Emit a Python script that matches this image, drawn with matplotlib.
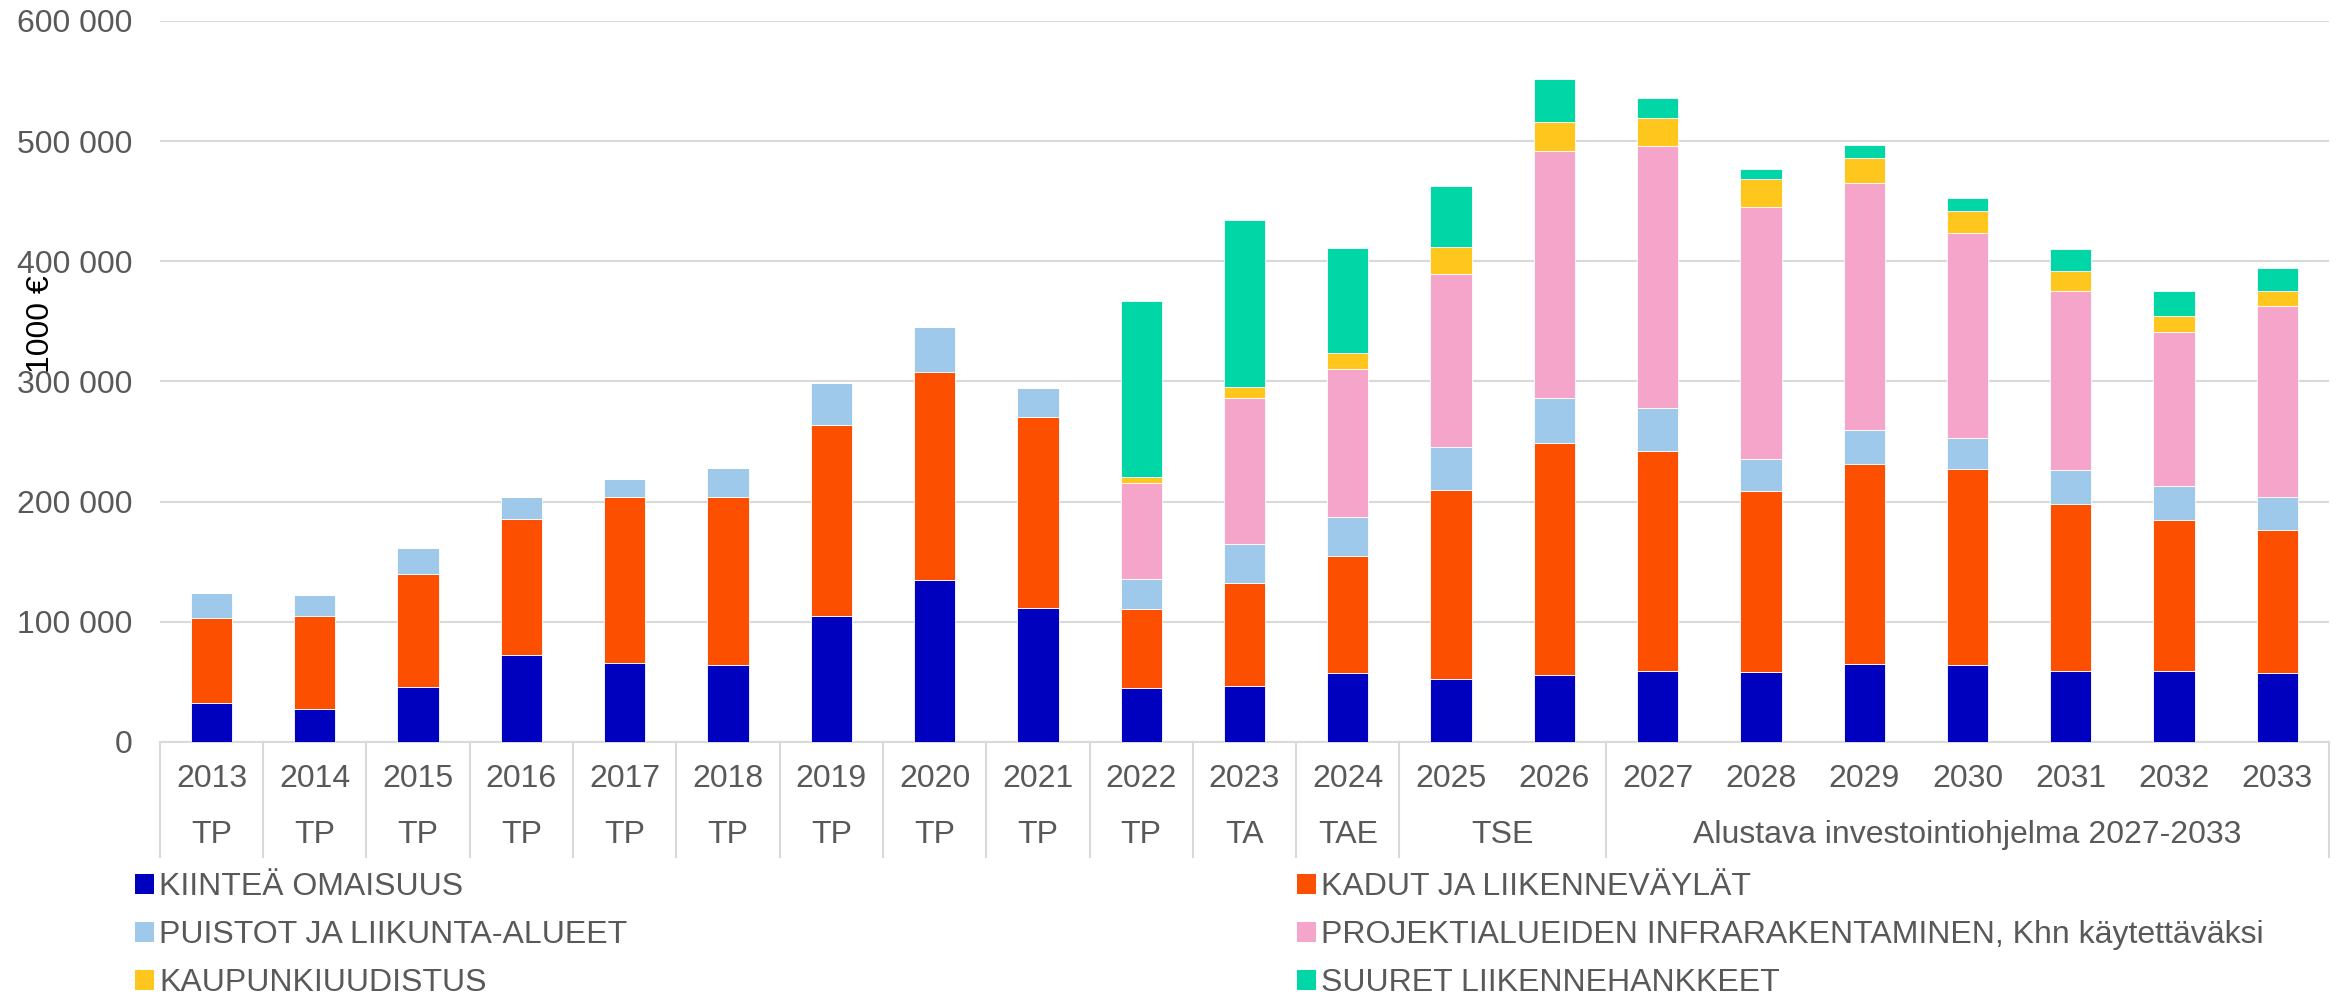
import matplotlib.pyplot as plt
import matplotlib.transforms as mtransforms
from matplotlib.lines import Line2D
from matplotlib.patches import Patch
import numpy as np

plt.rcParams['font.family'] = ['Liberation Sans', 'DejaVu Sans']

years = ['2013', '2014', '2015', '2016', '2017', '2018', '2019', '2020', '2021', '2022', '2023',
         '2024', '2025', '2026', '2027', '2028', '2029', '2030', '2031', '2032', '2033']
# groups: (label, first index, last index)
groups = [('TP', 0, 0), ('TP', 1, 1), ('TP', 2, 2), ('TP', 3, 3), ('TP', 4, 4), ('TP', 5, 5),
          ('TP', 6, 6), ('TP', 7, 7), ('TP', 8, 8), ('TP', 9, 9), ('TA', 10, 10), ('TAE', 11, 11),
          ('TSE', 12, 13), ('Alustava investointiohjelma 2027-2033', 14, 20)]

kiintea = [32700, 27400, 45600, 72200, 65800, 64200, 104500, 134400, 111800, 45200, 46800,
           57300, 52500, 55700, 59300, 58500, 65000, 64200, 59300, 59300, 57300]
kadut = [70200, 77100, 94400, 113000, 138000, 139600, 159000, 173100, 159000, 65800, 85600,
         97300, 157300, 193300, 183200, 150500, 166600, 162600, 138800, 125500, 119500]
puistot = [21400, 17400, 21000, 18600, 15300, 23800, 35500, 37900, 23400, 24200, 32200,
           32200, 35600, 37100, 35100, 26300, 27900, 25800, 27900, 27900, 27400]
projekti = [0, 0, 0, 0, 0, 0, 0, 0, 0, 80300, 121900,
            123900, 144000, 205800, 218000, 210200, 205400, 171100, 149700, 128300, 159000]
kaupunki = [0, 0, 0, 0, 0, 0, 0, 0, 0, 4800, 9300,
            13400, 22200, 24200, 23800, 23000, 21000, 18200, 16100, 13700, 11700]
suuret = [0, 0, 0, 0, 0, 0, 0, 0, 0, 146500, 138400,
          87100, 51300, 35600, 16900, 8500, 11300, 10500, 18600, 20600, 19800]

series = [
    ('KIINTEÄ OMAISUUS', kiintea, '#0000BF'),
    ('KADUT JA LIIKENNEVÄYLÄT', kadut, '#FC5000'),
    ('PUISTOT JA LIIKUNTA-ALUEET', puistot, '#9FC9EB'),
    ('PROJEKTIALUEIDEN INFRARAKENTAMINEN, Khn käytettäväksi', projekti, '#F4A5C9'),
    ('KAUPUNKIUUDISTUS', kaupunki, '#FFC61E'),
    ('SUURET LIIKENNEHANKKEET', suuret, '#00D6A6'),
]

gray = '#595959'
grid = '#D9D9D9'
fs = 23

fig = plt.figure(figsize=(23.41, 9.99), dpi=100)
ax = fig.add_axes([0.0683, 0.2573, 0.9266, 0.7217])

x = np.arange(len(years))
bottom = np.zeros(len(years))
for name, vals, col in series:
    v = np.array(vals, dtype=float)
    ax.bar(x, v, width=0.4, bottom=bottom, color=col, edgecolor='white', linewidth=0.6, zorder=3)
    bottom += v

ax.set_xlim(-0.5, len(years) - 0.5)
ax.set_ylim(0, 600000)
ax.set_yticks(np.arange(0, 600001, 100000))
ax.set_yticklabels([f'{int(t):,}'.replace(',', ' ') for t in np.arange(0, 600001, 100000)])
ax.tick_params(axis='y', length=0, pad=20, labelsize=fs, labelcolor=gray)
ax.set_xticks([])
ax.grid(axis='y', color=grid, linewidth=1.5, zorder=0)
for s in ['top', 'right', 'left']:
    ax.spines[s].set_visible(False)
ax.spines['bottom'].set_color(grid)
ax.spines['bottom'].set_linewidth(1.5)

# category axis below the plot
trans = mtransforms.blended_transform_factory(ax.transData, fig.transFigure)
y_axis = 0.2573
y_years = 0.2202
y_groups = 0.164
y_sep = 0.142
for i, yr in enumerate(years):
    fig.text(i, y_years, yr, transform=trans, ha='center', va='center', fontsize=fs, color=gray)
bounds = [-0.5]
for lab, a, b in groups:
    fig.text((a + b) / 2, y_groups, lab, transform=trans, ha='center', va='center',
             fontsize=fs, color=gray)
    bounds.append(b + 0.5)
for bx in bounds:
    fig.add_artist(Line2D([bx, bx], [y_sep, y_axis], transform=trans, color=grid,
                          linewidth=1.5, clip_on=False))

fig.text(41 / 2341, 0.676, '1000 €', rotation=90, ha='center', va='center', fontsize=fs,
         color='black')

handles = [Patch(facecolor=c, label=n) for n, v, c in series]
leg_kw = dict(frameon=False, fontsize=fs, labelcolor=gray, handlelength=0.6, handleheight=0.6,
              handletextpad=0.15, labelspacing=0.57, borderaxespad=0, borderpad=0)
l1 = fig.legend(handles=[handles[0], handles[2], handles[4]], loc='upper left',
                bbox_to_anchor=(135 / 2341, 1 - 872 / 999), **leg_kw)
l2 = fig.legend(handles=[handles[1], handles[3], handles[5]], loc='upper left',
                bbox_to_anchor=(1297 / 2341, 1 - 872 / 999), **leg_kw)

fig.savefig('out.png', dpi=100)
